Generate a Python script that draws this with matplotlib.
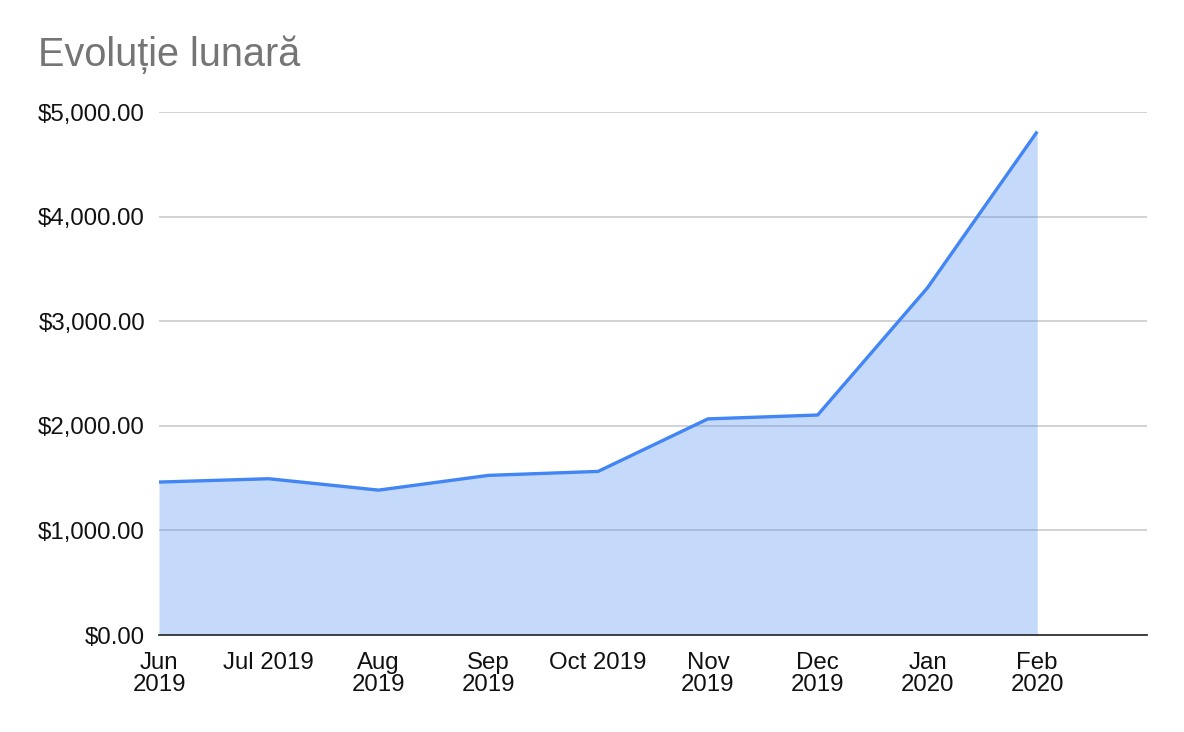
import matplotlib
matplotlib.use("Agg")
import matplotlib.pyplot as plt
from matplotlib.ticker import FuncFormatter, MultipleLocator

months = ["Jun\n2019", "Jul 2019", "Aug\n2019", "Sep\n2019", "Oct 2019",
          "Nov\n2019", "Dec\n2019", "Jan\n2020", "Feb\n2020"]
values = [1462, 1494, 1385, 1526, 1564, 2066, 2103, 3319, 4813]
title = "Evoluție lunară"

plt.rcParams['font.family'] = ['Liberation Sans', 'DejaVu Sans']

fig = plt.figure(figsize=(11.84, 7.32), dpi=100)
ax = fig.add_axes([159/1184, 97/732, (1147-159)/1184, (635-112)/732])

x = list(range(len(values)))
ax.fill_between(x, values, 0, color="#4285F4", alpha=0.3, linewidth=0, zorder=2)
ax.plot(x, values, color="#4285F4", linewidth=2.4, zorder=3, solid_capstyle="butt")

ax.set_xlim(0, len(values))
ax.set_ylim(0, 5000)
ax.yaxis.set_major_locator(MultipleLocator(1000))
ax.yaxis.set_major_formatter(FuncFormatter(lambda v, p: f"${v:,.2f}"))
ax.set_xticks(x)
ax.set_xticklabels(months, linespacing=0.98)

ax.grid(axis="y", color="#CCCCCC", linewidth=1.2, zorder=1)
ax.set_axisbelow(True)
for s in ["top", "right", "left"]:
    ax.spines[s].set_visible(False)
ax.spines["bottom"].set_color("#333333")
ax.spines["bottom"].set_linewidth(1.3)
ax.spines["bottom"].set_zorder(4)

ax.tick_params(axis="both", length=0, labelsize=17.3, colors="#111111")
ax.tick_params(axis="y", pad=10)
ax.tick_params(axis="x", pad=12.5)

fig.text(38/1184, 1 - 55/732, title, fontsize=28.5, color="#757575", va="center", ha="left")

fig.savefig("out.png", dpi=100, facecolor="white")
